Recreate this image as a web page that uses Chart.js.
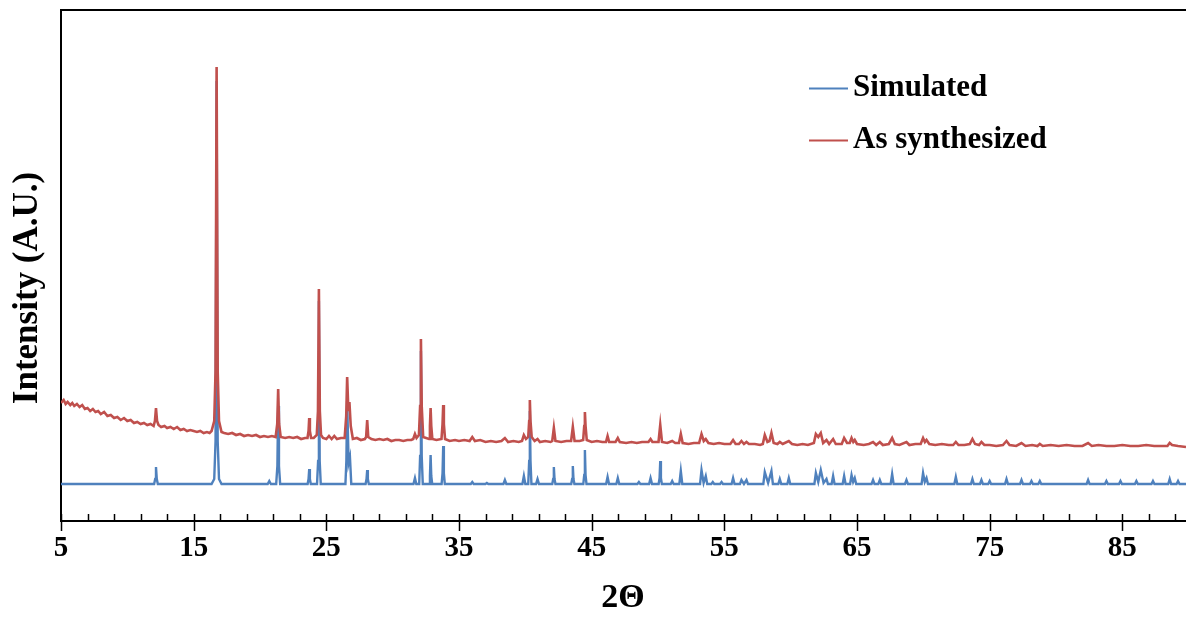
<!DOCTYPE html>
<html>
<head>
<meta charset="utf-8">
<script src="https://cdn.jsdelivr.net/npm/chart.js@4.4.0/dist/chart.umd.min.js"></script>
<style>
  html, body { margin: 0; padding: 0; background: #fff; }
  #wrap { position: relative; width: 1186px; height: 620px; }
</style>
</head>
<body>
<div id="wrap"><canvas id="xrdChart"></canvas></div>
<script>
// data: [2theta, intensity (A.U.)]
const seriesNames = ['Simulated', 'As synthesized'];
const xTickValues = [5, 15, 25, 35, 45, 55, 65, 75, 85];

const simulated = [
  [5, 37], [12.02, 37], [12.1, 42], [12.16, 54], [12.22, 42], [12.3, 37],
  [16.35, 37], [16.55, 42], [16.65, 80], [16.73, 440], [16.81, 80], [16.91, 42], [17.1, 37],
  [20.58, 37], [20.7, 40], [20.82, 37],
  [21.22, 37], [21.31, 55], [21.37, 115], [21.43, 55], [21.52, 37],
  [23.59, 37], [23.66, 42], [23.71, 52], [23.76, 42], [23.83, 37],
  [24.3, 37], [24.38, 60], [24.44, 220], [24.5, 60], [24.58, 37],
  [26.44, 37], [26.51, 60], [26.57, 120], [26.68, 58], [26.78, 64], [26.88, 37],
  [27.96, 37], [28.03, 42], [28.08, 51], [28.13, 42], [28.2, 37],
  [31.57, 37], [31.68, 43], [31.78, 37],
  [32.0, 37], [32.07, 65], [32.13, 170], [32.19, 65], [32.27, 37],
  [32.74, 37], [32.81, 45], [32.86, 66], [32.91, 45], [32.98, 37],
  [33.69, 37], [33.76, 48], [33.81, 75], [33.86, 48], [33.93, 37],
  [35.89, 37], [36.0, 39], [36.11, 37],
  [36.99, 37], [37.1, 38], [37.21, 37],
  [38.35, 37], [38.46, 41], [38.57, 37],
  [39.78, 37], [39.89, 45], [40.0, 37],
  [40.22, 37], [40.29, 60], [40.34, 110], [40.39, 60], [40.46, 37],
  [40.81, 37], [40.92, 42], [41.03, 37],
  [42.03, 37], [42.1, 42], [42.15, 54], [42.2, 42], [42.27, 37],
  [43.46, 37], [43.53, 42], [43.58, 55], [43.63, 42], [43.7, 37],
  [44.37, 37], [44.44, 46], [44.49, 71], [44.54, 46], [44.61, 37],
  [46.09, 37], [46.2, 44], [46.31, 37],
  [46.86, 37], [46.97, 43], [47.08, 37],
  [48.45, 37], [48.56, 39], [48.67, 37],
  [49.33, 37], [49.44, 43], [49.55, 37],
  [50.05, 37], [50.12, 43], [50.17, 60], [50.22, 43], [50.29, 37],
  [50.96, 37], [51.07, 40], [51.18, 37],
  [51.61, 37], [51.72, 50], [51.83, 37],
  [53.17, 37], [53.28, 51], [53.44, 38], [53.6, 45], [53.71, 37],
  [54.02, 37], [54.13, 39], [54.24, 37],
  [54.68, 37], [54.79, 39], [54.9, 37],
  [55.55, 37], [55.66, 43], [55.77, 37],
  [56.18, 37], [56.29, 41], [56.48, 37], [56.67, 41], [56.78, 37],
  [57.94, 37], [58.05, 49], [58.3, 38], [58.55, 50], [58.66, 37],
  [59.07, 37], [59.18, 42], [59.29, 37],
  [59.75, 37], [59.86, 43], [59.97, 37],
  [61.79, 37], [61.9, 48], [62.08, 39], [62.27, 51], [62.48, 38], [62.7, 42], [62.81, 37],
  [63.09, 37], [63.2, 45], [63.31, 37],
  [63.92, 37], [64.03, 45], [64.14, 37],
  [64.48, 37], [64.59, 46], [64.71, 39], [64.83, 43], [64.94, 37],
  [66.1, 37], [66.21, 41], [66.32, 37],
  [66.61, 37], [66.72, 41], [66.83, 37],
  [67.54, 37], [67.65, 47], [67.76, 37],
  [68.62, 37], [68.73, 41], [68.84, 37],
  [69.87, 37], [69.98, 48], [70.11, 39], [70.24, 43], [70.35, 37],
  [72.34, 37], [72.45, 44], [72.56, 37],
  [73.59, 37], [73.7, 42], [73.81, 37],
  [74.27, 37], [74.38, 41], [74.49, 37],
  [74.89, 37], [75.0, 40], [75.11, 37],
  [76.16, 37], [76.27, 42], [76.38, 37],
  [77.29, 37], [77.4, 41], [77.51, 37],
  [78.04, 37], [78.15, 40], [78.26, 37],
  [78.67, 37], [78.78, 40], [78.89, 37],
  [82.31, 37], [82.42, 41], [82.53, 37],
  [83.69, 37], [83.8, 40], [83.91, 37],
  [84.75, 37], [84.86, 40], [84.97, 37],
  [85.95, 37], [86.06, 40], [86.17, 37],
  [87.2, 37], [87.31, 40], [87.42, 37],
  [88.46, 37], [88.57, 42], [88.68, 37],
  [89.09, 37], [89.2, 40], [89.31, 37], [89.8, 37]
];

const synthesized = [
  [5.0, 118], [5.2, 121], [5.35, 117], [5.5, 119], [5.7, 116], [5.85, 118], [6.0, 115], [6.2, 117],
  [6.4, 114], [6.6, 116], [6.8, 112], [7.0, 113], [7.2, 110], [7.4, 112], [7.6, 109], [7.8, 110],
  [8.0, 107], [8.25, 109], [8.5, 105], [8.75, 106], [9.0, 103], [9.25, 104], [9.5, 101], [9.75, 103],
  [10.0, 100], [10.25, 101], [10.5, 98], [10.75, 99], [11.0, 97], [11.25, 98], [11.5, 96], [11.75, 97],
  [11.98, 95], [12.08, 100], [12.16, 113], [12.24, 100], [12.35, 96], [12.55, 94], [12.8, 95], [13.0, 93],
  [13.25, 94], [13.5, 92], [13.75, 94], [14.0, 91], [14.25, 92], [14.5, 90], [14.75, 91], [15.0, 90],
  [15.25, 89], [15.5, 90], [15.75, 88], [16.0, 89], [16.2, 88], [16.35, 90], [16.55, 100], [16.65, 150],
  [16.73, 454], [16.81, 150], [16.91, 100], [17.1, 89], [17.3, 88], [17.6, 87], [17.9, 88], [18.2, 86],
  [18.5, 87], [18.8, 85], [19.1, 86], [19.4, 85], [19.7, 86], [20.0, 84], [20.3, 85], [20.6, 84],
  [20.9, 85], [21.18, 84], [21.3, 97], [21.37, 132], [21.44, 97], [21.56, 84], [21.9, 83], [22.2, 84],
  [22.5, 83], [22.8, 84], [23.1, 82], [23.4, 83], [23.58, 83], [23.66, 90], [23.71, 103], [23.76, 90],
  [23.85, 83], [24.05, 83], [24.28, 86], [24.37, 110], [24.44, 232], [24.51, 110], [24.6, 86], [24.75, 83],
  [25.0, 82], [25.2, 85], [25.4, 82], [25.6, 85], [25.8, 82], [26.1, 83], [26.38, 83], [26.5, 105],
  [26.57, 144], [26.66, 110], [26.74, 119], [26.84, 95], [27.0, 82], [27.3, 83], [27.6, 81], [27.9, 82],
  [28.0, 84], [28.08, 101], [28.16, 84], [28.4, 82], [28.7, 81], [29.0, 82], [29.3, 81], [29.6, 82],
  [29.9, 80], [30.2, 81], [30.5, 81], [30.8, 80], [31.1, 81], [31.4, 81], [31.55, 82], [31.68, 87],
  [31.8, 83], [31.98, 86], [32.07, 115], [32.13, 182], [32.19, 115], [32.3, 84], [32.74, 82], [32.81, 95],
  [32.86, 113], [32.91, 95], [32.99, 82], [33.3, 81], [33.68, 82], [33.76, 97], [33.81, 116], [33.86, 97],
  [33.95, 82], [34.3, 80], [34.7, 81], [35.0, 80], [35.4, 81], [35.8, 80], [36.0, 84], [36.2, 80],
  [36.6, 81], [37.0, 79], [37.4, 80], [37.8, 79], [38.2, 80], [38.46, 83], [38.7, 79], [39.1, 80],
  [39.5, 79], [39.75, 80], [39.89, 86], [40.05, 82], [40.22, 84], [40.29, 100], [40.34, 121], [40.39, 100],
  [40.48, 84], [40.7, 80], [40.92, 82], [41.1, 79], [41.5, 80], [41.9, 79], [42.03, 80], [42.15, 93],
  [42.27, 80], [42.7, 79], [43.1, 80], [43.45, 80], [43.58, 94], [43.71, 80], [44.1, 80], [44.36, 81],
  [44.44, 95], [44.49, 109], [44.54, 95], [44.63, 81], [45.0, 79], [45.4, 80], [45.8, 79], [46.08, 79],
  [46.2, 85], [46.32, 79], [46.8, 79], [46.97, 83], [47.12, 79], [47.6, 78], [48.0, 79], [48.4, 78],
  [48.8, 79], [49.28, 79], [49.44, 82], [49.58, 79], [50.04, 79], [50.17, 96], [50.3, 79], [50.7, 78],
  [51.07, 80], [51.3, 78], [51.58, 78], [51.72, 87], [51.86, 78], [52.3, 77], [52.7, 78], [53.1, 78],
  [53.28, 87], [53.45, 80], [53.6, 82], [53.8, 78], [54.2, 77], [54.6, 78], [55.0, 77], [55.45, 77],
  [55.66, 81], [55.85, 77], [56.1, 77], [56.29, 80], [56.48, 77], [56.67, 79], [56.85, 77], [57.3, 77],
  [57.7, 76], [57.9, 77], [58.05, 86], [58.25, 79], [58.4, 80], [58.55, 88], [58.72, 78], [59.0, 77],
  [59.18, 79], [59.4, 77], [59.86, 80], [60.1, 77], [60.5, 76], [60.9, 77], [61.3, 76], [61.75, 78],
  [61.9, 87], [62.08, 84], [62.27, 88], [62.45, 78], [62.7, 81], [62.9, 77], [63.2, 82], [63.4, 77],
  [63.85, 77], [64.03, 83], [64.25, 78], [64.45, 78], [64.59, 83], [64.72, 79], [64.83, 81], [65.0, 77],
  [65.5, 76], [65.9, 77], [66.21, 79], [66.45, 76], [66.72, 79], [66.95, 76], [67.4, 77], [67.65, 83],
  [67.85, 77], [68.2, 76], [68.73, 79], [68.95, 76], [69.4, 77], [69.8, 77], [69.98, 83], [70.12, 79],
  [70.24, 81], [70.45, 77], [70.9, 76], [71.4, 77], [71.9, 76], [72.25, 76], [72.45, 79], [72.65, 76],
  [73.1, 76], [73.5, 77], [73.7, 82], [73.9, 77], [74.2, 76], [74.38, 79], [74.6, 76], [75.0, 76],
  [75.5, 75], [76.0, 76], [76.27, 80], [76.5, 76], [77.0, 75], [77.4, 78], [77.7, 75], [78.2, 76],
  [78.6, 75], [78.78, 77], [79.0, 75], [79.6, 76], [80.2, 75], [80.8, 76], [81.4, 75], [82.0, 75],
  [82.42, 78], [82.7, 75], [83.2, 76], [83.8, 75], [84.4, 75], [85.0, 76], [85.6, 75], [86.2, 75],
  [86.8, 76], [87.4, 75], [88.0, 75], [88.4, 75], [88.57, 78], [88.75, 76], [89.2, 75], [89.8, 74]
];

const blue = '#4F81BD';
const red = '#C0504D';
const serif = '"Liberation Serif", "Times New Roman", serif';

// box top line, minor/major ticks, axis titles and legend
const decorations = {
  id: 'decorations',
  afterDraw(chart) {
    const { ctx, chartArea } = chart;
    const xs = chart.scales.x;
    const bottom = chartArea.bottom;
    ctx.save();
    ctx.strokeStyle = '#000';
    ctx.lineWidth = 2;
    ctx.beginPath();
    ctx.moveTo(chartArea.left - 1, chartArea.top);
    ctx.lineTo(chartArea.right + 2, chartArea.top);
    ctx.stroke();

    ctx.lineWidth = 1.5;
    for (let v = 5; v < 90; v += 2) {
      const px = Math.round(xs.getPixelForValue(v)) + 0.5;
      const major = (v - 5) % 10 === 0;
      ctx.beginPath();
      ctx.moveTo(px, bottom - 7);
      ctx.lineTo(px, major ? bottom + 10 : bottom);
      ctx.stroke();
    }

    ctx.fillStyle = '#000';
    ctx.textAlign = 'center';
    ctx.textBaseline = 'middle';
    ctx.font = 'bold 34px ' + serif;
    ctx.fillText('2\u0398', 623, 598);

    ctx.save();
    ctx.translate(28, 288);
    ctx.rotate(-Math.PI / 2);
    ctx.font = 'bold 35px ' + serif;
    ctx.fillText('Intensity (A.U.)', 0, 0);
    ctx.restore();

    // legend
    const rows = [[seriesNames[0], blue, 88], [seriesNames[1], red, 140]];
    ctx.textAlign = 'left';
    ctx.font = 'bold 31px ' + serif;
    rows.forEach(([label, color, y]) => {
      ctx.strokeStyle = color;
      ctx.lineWidth = 2;
      ctx.beginPath();
      ctx.moveTo(809, y + 0.5);
      ctx.lineTo(848, y + 0.5);
      ctx.stroke();
      ctx.fillStyle = '#000';
      ctx.fillText(label, 853, y);
    });
    ctx.restore();
  }
};

const ctx = document.getElementById('xrdChart').getContext('2d');
const xrdChart = new Chart(ctx, {
  type: 'line',
  data: {
    datasets: [
      {
        label: seriesNames[0],
        data: simulated,
        borderColor: blue,
        borderWidth: 2.4,
        pointRadius: 0,
        tension: 0,
        order: 1
      },
      {
        label: seriesNames[1],
        data: synthesized,
        borderColor: red,
        borderWidth: 2.6,
        pointRadius: 0,
        tension: 0,
        order: 0
      }
    ]
  },
  options: {
    responsive: true,
    maintainAspectRatio: false,
    animation: false,
    layout: { padding: { top: 10, right: 0, left: 0, bottom: 0 } },
    plugins: {
      legend: { display: false },
      tooltip: { enabled: false }
    },
    scales: {
      x: {
        type: 'linear',
        min: 5,
        max: 89.8,
        afterFit(scale) { scale.height = 99; },
        afterBuildTicks(scale) { scale.ticks = xTickValues.map(v => ({ value: v })); },
        grid: { display: false, drawTicks: false },
        border: { display: true, color: '#000', width: 2 },
        ticks: {
          autoSkip: false,
          maxRotation: 0,
          padding: 10,
          color: '#000',
          font: { family: serif, size: 29, weight: 'bold' }
        }
      },
      y: {
        min: 0,
        max: 511,
        afterFit(scale) { scale.width = 61; },
        grid: { display: false, drawTicks: false },
        border: { display: true, color: '#000', width: 2 },
        ticks: { display: false }
      }
    }
  },
  plugins: [decorations]
});
</script>
</body>
</html>
